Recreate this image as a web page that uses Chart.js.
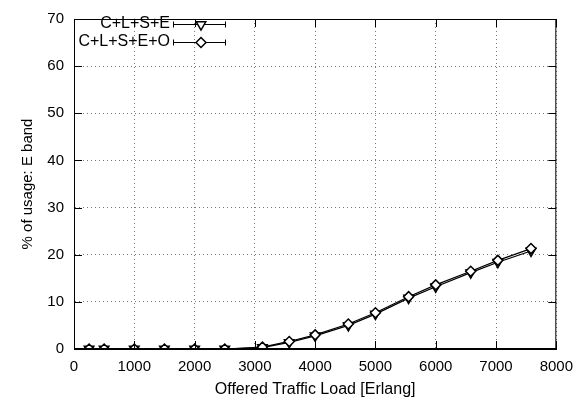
<!DOCTYPE html>
<html>
<head>
<meta charset="utf-8">
<script src="https://cdn.jsdelivr.net/npm/chart.js@4"></script>
<style>
  body { margin: 0; background: #fff; }
</style>
</head>
<body>
<canvas id="myChart" width="582" height="400"></canvas>
<script>
const loads = [250, 500, 1000, 1500, 2000, 2500, 3125, 3570, 4000, 4550, 5000, 5550, 6000, 6580, 7030, 7580];
const usageE = [0, 0, 0, 0, 0, 0, 0.3, 1.4, 2.8, 5.0, 7.4, 10.8, 13.2, 16.2, 18.4, 20.8];
const usageEO = [0, 0, 0, 0, 0, 0, 0.4, 1.6, 3.0, 5.3, 7.7, 11.1, 13.6, 16.5, 18.8, 21.3];
const seriesNames = ['C+L+S+E', 'C+L+S+E+O'];
const xTicks = [0, 1000, 2000, 3000, 4000, 5000, 6000, 7000, 8000];
const yTicks = [0, 10, 20, 30, 40, 50, 60, 70];

const FONT = 'Liberation Sans, Arial, Helvetica, sans-serif';

function toPoints(xs, ys) {
  return xs.map((x, i) => ({ x: x, y: ys[i] }));
}

// gnuplot-like frame, inward ticks and legend with error-bar sample
const framePlugin = {
  id: 'frame',
  afterDraw(chart) {
    const { ctx, chartArea: a, scales } = chart;
    ctx.save();
    ctx.strokeStyle = '#000';
    ctx.lineWidth = 1;
    ctx.strokeRect(a.left + 0.5, a.top + 0.5, a.right - a.left - 1, a.bottom - a.top - 1);
    ctx.beginPath();
    xTicks.forEach(v => {
      const px = Math.round(scales.x.getPixelForValue(v)) + 0.5;
      ctx.moveTo(px, a.bottom); ctx.lineTo(px, a.bottom - 8);
      ctx.moveTo(px, a.top); ctx.lineTo(px, a.top + 8);
    });
    yTicks.forEach(v => {
      const py = Math.round(scales.y.getPixelForValue(v)) + 0.5;
      ctx.moveTo(a.left, py); ctx.lineTo(a.left + 8, py);
      ctx.moveTo(a.right, py); ctx.lineTo(a.right - 8, py);
    });
    ctx.stroke();

    // legend
    ctx.font = '16px ' + FONT;
    ctx.fillStyle = '#000';
    ctx.textAlign = 'right';
    ctx.textBaseline = 'middle';
    const rows = [24, 42];
    chart.data.datasets.forEach((ds, i) => {
      const y = rows[i] + 0.5;
      ctx.fillText(seriesNames[i], 170, rows[i]);
      ctx.beginPath();
      ctx.moveTo(173, y); ctx.lineTo(226, y);
      ctx.moveTo(173.5, y - 3); ctx.lineTo(173.5, y + 3);
      ctx.moveTo(225.5, y - 3); ctx.lineTo(225.5, y + 3);
      ctx.stroke();
      ctx.fillStyle = '#fff';
      ctx.lineWidth = 1.5;
      Chart.helpers.drawPoint(ctx, {
        pointStyle: ds.pointStyle,
        rotation: ds.pointRotation || 0,
        radius: ds.pointRadius,
        borderWidth: 1.5
      }, 201, y);
      ctx.fillStyle = '#000';
      ctx.lineWidth = 1;
    });
    ctx.restore();
  }
};

const ctx = document.getElementById('myChart');
const myChart = new Chart(ctx, {
  type: 'line',
  data: {
    datasets: [{
      label: seriesNames[0],
      data: toPoints(loads, usageE),
      borderColor: '#000',
      borderWidth: 1.2,
      backgroundColor: '#fff',
      pointStyle: 'triangle',
      pointRotation: 180,
      pointRadius: 5.5,
      pointBorderWidth: 1.5,
      pointBorderColor: '#000',
      pointBackgroundColor: '#fff',
      fill: false,
      tension: 0,
      order: 2
    }, {
      label: seriesNames[1],
      data: toPoints(loads, usageEO),
      borderColor: '#000',
      borderWidth: 1.2,
      backgroundColor: '#fff',
      pointStyle: 'rectRot',
      pointRadius: 5,
      pointBorderWidth: 1.5,
      pointBorderColor: '#000',
      pointBackgroundColor: '#fff',
      fill: false,
      tension: 0,
      order: 1
    }]
  },
  options: {
    responsive: false,
    animation: false,
    devicePixelRatio: 1,
    layout: { padding: { top: 13, right: 22, left: 0, bottom: 0 } },
    plugins: {
      legend: { display: false },
      tooltip: { enabled: false }
    },
    scales: {
      x: {
        type: 'linear',
        min: 0,
        max: 8000,
        afterBuildTicks: s => { s.ticks = xTicks.map(v => ({ value: v })); },
        afterFit: s => { s.height = 51; },
        ticks: {
          color: '#000',
          font: { family: FONT, size: 15 },
          padding: 9,
          maxRotation: 0,
          callback: v => String(v)
        },
        grid: { color: '#777', drawTicks: false },
        border: { display: true, color: '#000', dash: [1, 3] },
        title: {
          display: true,
          text: 'Offered Traffic Load [Erlang]',
          color: '#000',
          font: { family: FONT, size: 16 },
          padding: { top: 0, bottom: 1 }
        }
      },
      y: {
        min: 0,
        max: 70,
        afterBuildTicks: s => { s.ticks = yTicks.map(v => ({ value: v })); },
        afterFit: s => { s.width = 74; },
        ticks: {
          color: '#000',
          font: { family: FONT, size: 15 },
          padding: 10,
          callback: v => String(v)
        },
        grid: { color: '#777', drawTicks: false },
        border: { display: true, color: '#000', dash: [1, 3] },
        title: {
          display: true,
          text: '% of usage: E band',
          color: '#000',
          font: { family: FONT, size: 15 },
          padding: { top: 19, bottom: 0 }
        }
      }
    }
  },
  plugins: [framePlugin]
});
</script>
</body>
</html>
